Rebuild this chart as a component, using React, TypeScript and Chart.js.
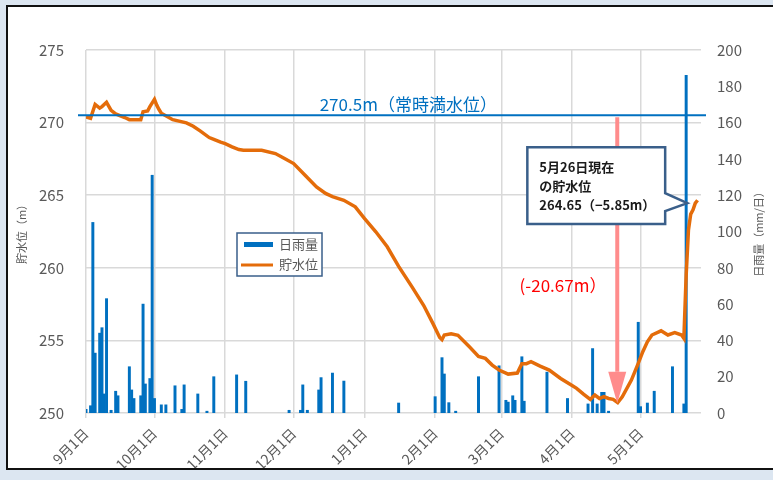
import { useEffect, useRef } from "react";
import { Chart, registerables } from "chart.js";
Chart.register(...registerables);

// Day index: 0 = 9月1日 ... 268 = 5月26日
const monthStartDays = [0, 30, 61, 91, 122, 153, 182, 213, 243];
const monthLabels = ["9月1日", "10月1日", "11月1日", "12月1日", "1月1日", "2月1日", "3月1日", "4月1日", "5月1日"];

const rainDays = [0, 2, 3, 4, 6, 7, 8, 9, 11, 13, 14, 19, 20, 21, 24, 25, 26, 28, 29, 30, 33, 35, 39, 42, 43, 49, 53, 56, 66, 70, 89, 94, 95, 97, 102, 103, 108, 113, 137, 153, 156, 157, 159, 162, 172, 181, 184, 185, 187, 188, 191, 192, 202, 211, 220, 222, 224, 226, 227, 229, 242, 243, 246, 249, 257, 262, 263];
const rainMm = [2, 4, 105, 33, 44, 47, 10.5, 63, 1.5, 12, 9.5, 25.5, 12.7, 8, 9.5, 60, 16, 19, 131, 8, 4.5, 4.5, 15, 2, 15.5, 10.5, 1, 20, 21, 17.5, 1.5, 1.5, 15.5, 1.5, 12.7, 19.5, 22, 17.6, 5.5, 9, 30.5, 21.5, 5.7, 1, 20, 26, 7, 6, 9.5, 7, 31, 6.5, 22.5, 8, 5, 35.5, 5, 11.4, 11.4, 1, 50, 3.5, 5.5, 12, 25.5, 5, 186];

const levelDays = [0, 2, 4, 6, 7, 9, 11, 13, 17, 19, 24, 25, 27, 28, 30, 31, 32, 33, 38, 44, 47, 50, 54, 56, 59, 61, 64, 67, 69, 77, 83, 87, 91, 96, 101, 105, 108, 113, 118, 122, 127, 132, 137, 143, 148, 152, 155, 156, 157, 160, 163, 168, 172, 175, 178, 181, 185, 189, 191, 193, 195, 199, 203, 208, 213, 215, 218, 221, 223, 225, 227, 229, 231, 233, 235, 239, 242, 244, 246, 248, 252, 255, 258, 261, 262, 263, 264, 265, 266, 267, 268];
const levelM = [270.4, 270.3, 271.25, 271.0, 271.1, 271.4, 270.85, 270.6, 270.35, 270.2, 270.2, 270.75, 270.8, 271.1, 271.6, 271.2, 270.9, 270.65, 270.2, 269.98, 269.75, 269.43, 268.97, 268.85, 268.65, 268.55, 268.33, 268.14, 268.1, 268.1, 267.87, 267.53, 267.18, 266.38, 265.57, 265.12, 264.9, 264.65, 264.2, 263.4, 262.48, 261.45, 260.1, 258.65, 257.4, 256.17, 255.2, 255.05, 255.37, 255.45, 255.35, 254.56, 253.9, 253.76, 253.3, 252.96, 252.68, 252.75, 253.4, 253.4, 253.53, 253.23, 252.96, 252.38, 251.9, 251.7, 251.3, 250.94, 251.24, 251.0, 251.12, 251.0, 250.94, 250.71, 251.12, 252.27, 253.42, 254.22, 254.9, 255.37, 255.66, 255.37, 255.53, 255.37, 255.14, 259.5, 262.6, 263.7, 264.0, 264.45, 264.65];

const fullLevel = 270.5;
const fullLevelLabel = "270.5m（常時満水位）";
const dropLabel = "(-20.67m）";
const calloutLines = ["5月26日現在", "の貯水位", "264.65（−5.85m）"];
const legendRain = "日雨量";
const legendLevel = "貯水位";
const leftTitle = "貯水位（m）";
const rightTitle = "日雨量（mm/日）";

const FONT = '"Noto Sans CJK JP", "Noto Sans", sans-serif';
const BLUE = "#0070C0";
const ORANGE = "#E46C0A";
const GREY = "#595959";

const annotPlugin = {
  id: "annot",
  afterDatasetsDraw(chart: any) {
    const { ctx, chartArea: ca, scales } = chart;
    const x = scales.x;
    const y = scales.y;
    ctx.save();

    // full level line
    const yFull = y.getPixelForValue(fullLevel);
    ctx.strokeStyle = BLUE;
    ctx.lineWidth = 2;
    ctx.beginPath();
    ctx.moveTo(ca.left - 8, yFull);
    ctx.lineTo(ca.right + 5, yFull);
    ctx.stroke();
    ctx.fillStyle = BLUE;
    ctx.font = `17px ${FONT}`;
    ctx.textBaseline = "middle";
    ctx.textAlign = "left";
    ctx.fillText(fullLevelLabel, x.getPixelForValue(102.4), yFull - 11);

    // red arrow
    const ax = x.getPixelForValue(232.8);
    const aTop = y.getPixelForValue(270.37);
    const aBase = y.getPixelForValue(252.84);
    const aTip = y.getPixelForValue(250.67);
    ctx.strokeStyle = "#FF8C8C";
    ctx.lineWidth = 4;
    ctx.beginPath();
    ctx.moveTo(ax, aTop);
    ctx.lineTo(ax, aBase);
    ctx.stroke();
    ctx.fillStyle = "#FF8C8C";
    ctx.beginPath();
    ctx.moveTo(ax - 9, aBase);
    ctx.lineTo(ax + 9, aBase);
    ctx.lineTo(ax, aTip);
    ctx.closePath();
    ctx.fill();

    // red text
    ctx.fillStyle = "#FF0000";
    ctx.font = `17px ${FONT}`;
    ctx.fillText(dropLabel, x.getPixelForValue(190), y.getPixelForValue(258.8));

    // callout
    const bl = x.getPixelForValue(193.4);
    const br = x.getPixelForValue(253.8);
    const bt = y.getPixelForValue(268.31);
    const bb = y.getPixelForValue(263.01);
    const tipX = x.getPixelForValue(263.5);
    const tipY = y.getPixelForValue(264.45);
    ctx.beginPath();
    ctx.moveTo(bl, bt);
    ctx.lineTo(br, bt);
    ctx.lineTo(br, tipY - 10);
    ctx.lineTo(tipX, tipY);
    ctx.lineTo(br, tipY + 8);
    ctx.lineTo(br, bb);
    ctx.lineTo(bl, bb);
    ctx.closePath();
    ctx.fillStyle = "#FFFFFF";
    ctx.fill();
    ctx.strokeStyle = "#3A5F8A";
    ctx.lineWidth = 2.5;
    ctx.lineJoin = "miter";
    ctx.stroke();
    ctx.fillStyle = "#1A1A1A";
    ctx.font = `bold 13px ${FONT}`;
    calloutLines.forEach((t, i) => ctx.fillText(t, bl + 12, bt + 20 + i * 19));

    // legend
    const lx = ca.left + 151;
    const ly = ca.top + 183;
    ctx.fillStyle = "#FFFFFF";
    ctx.fillRect(lx, ly, 85, 43);
    ctx.strokeStyle = "#3A5F8A";
    ctx.lineWidth = 1.5;
    ctx.strokeRect(lx, ly, 85, 43);
    ctx.fillStyle = BLUE;
    ctx.fillRect(lx + 7, ly + 9, 29, 5);
    ctx.strokeStyle = ORANGE;
    ctx.lineWidth = 3;
    ctx.beginPath();
    ctx.moveTo(lx + 4, ly + 32);
    ctx.lineTo(lx + 36, ly + 32);
    ctx.stroke();
    ctx.fillStyle = GREY;
    ctx.font = `13px ${FONT}`;
    ctx.fillText(legendRain, lx + 42, ly + 11);
    ctx.fillText(legendLevel, lx + 42, ly + 31);

    // axis titles
    ctx.font = `11px ${FONT}`;
    ctx.fillStyle = GREY;
    ctx.textAlign = "center";
    const cy = (ca.top + ca.bottom) / 2;
    ctx.save();
    ctx.translate(14, cy);
    ctx.rotate(-Math.PI / 2);
    ctx.fillText(leftTitle, 0, 0);
    ctx.restore();
    ctx.save();
    ctx.translate(ca.right + 58, cy);
    ctx.rotate(-Math.PI / 2);
    ctx.fillText(rightTitle, 0, 0);
    ctx.restore();

    ctx.restore();
  },
};

export default function App() {
  const ref = useRef<HTMLCanvasElement>(null);
  useEffect(() => {
    const canvas = ref.current!;
    const chart = new Chart(canvas, {
      type: "bar",
      data: {
        datasets: [
          {
            type: "line",
            label: legendLevel,
            data: levelDays.map((d, i) => ({ x: d, y: levelM[i] })),
            yAxisID: "y",
            borderColor: ORANGE,
            borderWidth: 3.5,
            pointRadius: 0,
            tension: 0,
            order: 0,
          } as any,
          {
            type: "bar",
            label: legendRain,
            data: rainDays.map((d, i) => ({ x: d, y: rainMm[i] })),
            yAxisID: "y1",
            backgroundColor: BLUE,
            barThickness: 2.3,
            order: 1,
          } as any,
        ],
      },
      options: {
        animation: false,
        responsive: false,
        layout: { padding: { top: 43, left: 0, right: 0, bottom: 0 } },
        plugins: { legend: { display: false }, tooltip: { enabled: false } },
        scales: {
          x: {
            type: "linear",
            min: 0,
            max: 269.5,
            offset: false,
            afterBuildTicks: (a: any) => {
              a.ticks = monthStartDays.map((v) => ({ value: v }));
            },
            afterFit: (s: any) => {
              s.height = 55;
            },
            ticks: {
              autoSkip: false,
              minRotation: 45,
              maxRotation: 45,
              padding: 7,
              color: GREY,
              font: { family: FONT, size: 14 },
              callback: (v: any) => {
                const i = monthStartDays.indexOf(Number(v));
                return i >= 0 ? monthLabels[i] : "";
              },
            },
            grid: { color: "#D9D9D9", lineWidth: 1.5, tickLength: 5, drawTicks: true, offset: false },
            border: { display: false },
          },
          y: {
            position: "left",
            min: 250,
            max: 275,
            afterFit: (s: any) => {
              s.width = 78;
            },
            ticks: { stepSize: 5, padding: 22, color: GREY, font: { family: FONT, size: 15 } },
            grid: { color: "#D9D9D9", lineWidth: 1.5, drawTicks: false },
            border: { display: false },
          },
          y1: {
            position: "right",
            min: 0,
            max: 200,
            afterFit: (s: any) => {
              s.width = 72;
            },
            ticks: { stepSize: 20, padding: 16, color: GREY, font: { family: FONT, size: 15 } },
            grid: { display: false, drawTicks: false },
            border: { display: false },
          },
        },
      } as any,
      plugins: [annotPlugin],
    });
    return () => chart.destroy();
  }, []);

  return (
    <div style={{ position: "fixed", left: 0, top: 0, width: 773, height: 480, background: "#DCE6F1", overflow: "hidden" }}>
      <div
        style={{
          position: "absolute",
          left: 6,
          top: 5,
          width: 790,
          height: 461,
          border: "2px solid #111",
          background: "#FFFFFF",
        }}
      >
        <canvas ref={ref} width={765} height={461} style={{ display: "block" }} />
      </div>
    </div>
  );
}
